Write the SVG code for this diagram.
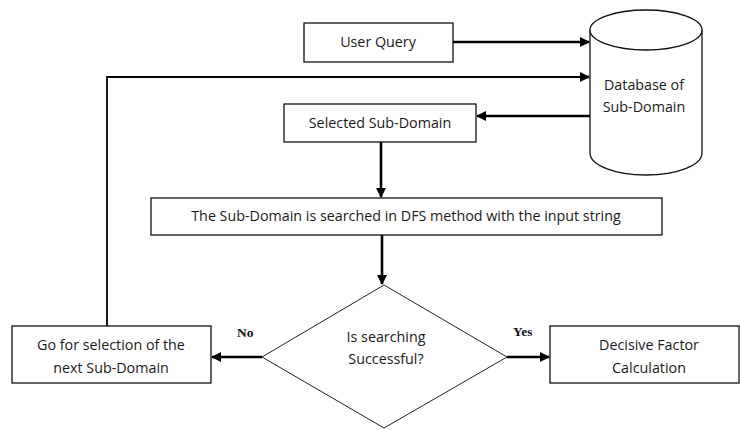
<svg xmlns="http://www.w3.org/2000/svg" width="740" height="430" viewBox="0 0 740 430">
  <style>
    .box { fill: #fff; stroke: #111; stroke-width: 1.3; }
    .thin { fill: #fff; stroke: #222; stroke-width: 1; }
    .lbl { font-family: "Open Sans", "Liberation Sans", sans-serif; font-size: 14.3px; fill: #1a1a1a; text-anchor: middle; }
    .yn { font-family: "Liberation Serif", serif; font-size: 13.5px; font-weight: bold; fill: #111; }
    .arrow { fill: none; stroke: #000; stroke-width: 2.6; }
    .line { fill: none; stroke: #000; stroke-width: 1.8; }
  </style>
  <defs>
    <marker id="head" viewBox="0 0 10 10" refX="9" refY="5" markerWidth="4" markerHeight="4" orient="auto" markerUnits="strokeWidth">
      <path d="M0,0 L10,5 L0,10 z" fill="#000"/>
    </marker>
  </defs>
  <rect width="740" height="430" fill="#fff"/>

  <g id="connectors">
    <line class="arrow" x1="453" y1="42" x2="589" y2="42" marker-end="url(#head)"/>
    <polyline class="line" points="107,326 107,77 585,77"/>
    <line class="arrow" x1="580" y1="77" x2="589" y2="77" marker-end="url(#head)"/>
    <line class="arrow" x1="590" y1="116" x2="477" y2="116" marker-end="url(#head)"/>
    <line class="arrow" x1="381" y1="142" x2="381" y2="197" marker-end="url(#head)"/>
    <line class="arrow" x1="382" y1="235" x2="382" y2="284" marker-end="url(#head)"/>
    <line class="arrow" x1="262" y1="357" x2="212" y2="357" marker-end="url(#head)"/>
    <line class="arrow" x1="507" y1="357" x2="549" y2="357" marker-end="url(#head)"/>
    <text class="yn" x="237" y="337">No</text>
    <text class="yn" x="513" y="336">Yes</text>
  </g>

  <g id="user-query">
    <rect class="box" x="304" y="23" width="149" height="39"/>
    <text class="lbl" x="378" y="47">User Query</text>
  </g>

  <g id="database">
    <path class="box" d="M590,30 L590,153 A56,22 0 0 0 702,153 L702,30"/>
    <ellipse class="box" cx="646" cy="30" rx="56" ry="20"/>
    <text class="lbl" x="644" y="90">Database of</text>
    <text class="lbl" x="644" y="112">Sub-Domain</text>
  </g>

  <g id="selected-sub-domain">
    <rect class="box" x="284" y="104" width="192" height="38"/>
    <text class="lbl" x="380" y="128">Selected Sub-Domain</text>
  </g>

  <g id="dfs-search">
    <rect class="box" x="151" y="198" width="511" height="37"/>
    <text class="lbl" x="406" y="221">The Sub-Domain is searched in DFS method with the input string</text>
  </g>

  <g id="decision">
    <polygon class="thin" points="384,285 507,357 384,428 262,357"/>
    <text class="lbl" x="386" y="342">Is searching</text>
    <text class="lbl" x="386" y="364">Successful?</text>
  </g>

  <g id="next-sub-domain">
    <rect class="box" x="12" y="326" width="199" height="57"/>
    <text class="lbl" x="111" y="350">Go for selection of the</text>
    <text class="lbl" x="111" y="373">next Sub-Domain</text>
  </g>

  <g id="decisive-factor">
    <rect class="box" x="550" y="326" width="189" height="57"/>
    <text class="lbl" x="649" y="350">Decisive Factor</text>
    <text class="lbl" x="649" y="373">Calculation</text>
  </g>
</svg>
